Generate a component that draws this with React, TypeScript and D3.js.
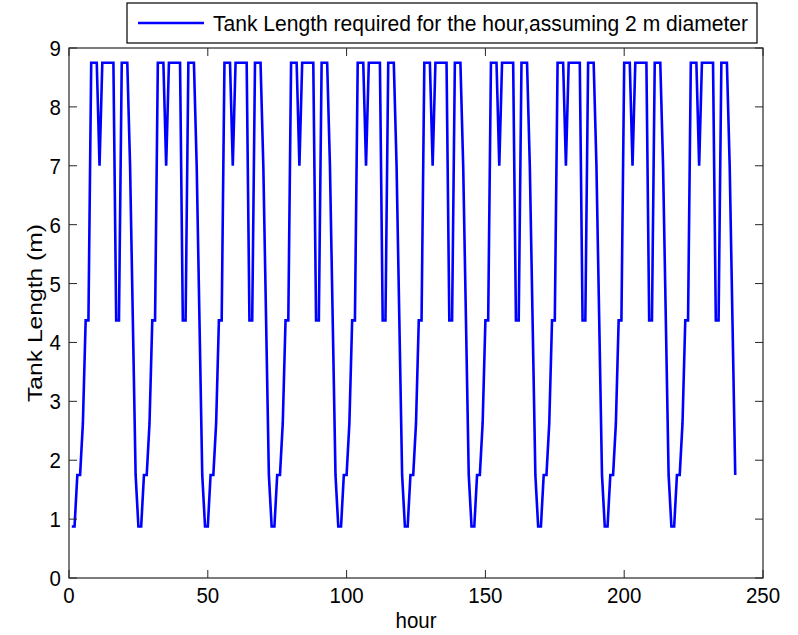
import React from "react";
import * as d3 from "d3";

const hours: number[] = Array.from({ length: 240 }, (_, i) => i + 1);

// Tank length (m) per hour, 10 days x 24 hours
const day1 = [0.875, 0.875, 1.75, 1.75, 2.625, 4.375, 4.375, 8.75, 8.75, 8.75, 7, 8.75, 8.75, 8.75, 8.75, 8.75, 4.375, 4.375, 8.75, 8.75, 8.75, 7, 4.375, 1.75];
const day2 = [0.875, 0.875, 1.75, 1.75, 2.625, 4.375, 4.375, 8.75, 8.75, 8.75, 7, 8.75, 8.75, 8.75, 8.75, 8.75, 4.375, 4.375, 8.75, 8.75, 8.75, 7, 4.375, 1.75];
const day3 = [0.875, 0.875, 1.75, 1.75, 2.625, 4.375, 4.375, 8.75, 8.75, 8.75, 7, 8.75, 8.75, 8.75, 8.75, 8.75, 4.375, 4.375, 8.75, 8.75, 8.75, 7, 4.375, 1.75];
const day4 = [0.875, 0.875, 1.75, 1.75, 2.625, 4.375, 4.375, 8.75, 8.75, 8.75, 7, 8.75, 8.75, 8.75, 8.75, 8.75, 4.375, 4.375, 8.75, 8.75, 8.75, 7, 4.375, 1.75];
const day5 = [0.875, 0.875, 1.75, 1.75, 2.625, 4.375, 4.375, 8.75, 8.75, 8.75, 7, 8.75, 8.75, 8.75, 8.75, 8.75, 4.375, 4.375, 8.75, 8.75, 8.75, 7, 4.375, 1.75];
const day6 = [0.875, 0.875, 1.75, 1.75, 2.625, 4.375, 4.375, 8.75, 8.75, 8.75, 7, 8.75, 8.75, 8.75, 8.75, 8.75, 4.375, 4.375, 8.75, 8.75, 8.75, 7, 4.375, 1.75];
const day7 = [0.875, 0.875, 1.75, 1.75, 2.625, 4.375, 4.375, 8.75, 8.75, 8.75, 7, 8.75, 8.75, 8.75, 8.75, 8.75, 4.375, 4.375, 8.75, 8.75, 8.75, 7, 4.375, 1.75];
const day8 = [0.875, 0.875, 1.75, 1.75, 2.625, 4.375, 4.375, 8.75, 8.75, 8.75, 7, 8.75, 8.75, 8.75, 8.75, 8.75, 4.375, 4.375, 8.75, 8.75, 8.75, 7, 4.375, 1.75];
const day9 = [0.875, 0.875, 1.75, 1.75, 2.625, 4.375, 4.375, 8.75, 8.75, 8.75, 7, 8.75, 8.75, 8.75, 8.75, 8.75, 4.375, 4.375, 8.75, 8.75, 8.75, 7, 4.375, 1.75];
const day10 = [0.875, 0.875, 1.75, 1.75, 2.625, 4.375, 4.375, 8.75, 8.75, 8.75, 7, 8.75, 8.75, 8.75, 8.75, 8.75, 4.375, 4.375, 8.75, 8.75, 8.75, 7, 4.375, 1.75];
const tankLength: number[] = [...day1, ...day2, ...day3, ...day4, ...day5, ...day6, ...day7, ...day8, ...day9, ...day10];

const xTicks = [0, 50, 100, 150, 200, 250];
const yTicks = [0, 1, 2, 3, 4, 5, 6, 7, 8, 9];
const legendLabel = "Tank Length required for the hour,assuming 2 m diameter";
const xLabel = "hour";
const yLabel = "Tank Length (m)";

const W = 798;
const H = 635;
const L = 69, R = 763, T = 48, B = 578;
const FONT = "'Liberation Sans', Arial, sans-serif";
const FS = 20.5;
const SY = 1.1;

export default function App() {
  const x = d3.scaleLinear().domain([0, 250]).range([L, R]);
  const y = d3.scaleLinear().domain([0, 9]).range([B, T]);
  const line = d3
    .line<number>()
    .x((_, i) => x(hours[i]))
    .y((d) => y(d));
  const tl = 8;
  return (
    <svg width={W} height={H} style={{ position: "absolute", left: 0, top: 0, background: "#fff" }}>
      <rect x={0} y={0} width={W} height={H} fill="#fff" />
      <path d={line(tankLength) || ""} fill="none" stroke="#0000ff" strokeWidth={2.6} strokeLinejoin="miter" />
      {/* box */}
      <rect x={L} y={T} width={R - L} height={B - T} fill="none" stroke="#262626" strokeWidth={1.2} />
      {xTicks.map((t) => (
        <g key={"x" + t}>
          <line x1={x(t)} x2={x(t)} y1={B} y2={B - tl} stroke="#262626" />
          <line x1={x(t)} x2={x(t)} y1={T} y2={T + tl} stroke="#262626" />
          <text
            transform={`translate(${x(t)}, ${B + 25}) scale(1, ${SY})`}
            textAnchor="middle"
            fontFamily={FONT}
            fontSize={FS}
            fill="#000"
          >
            {t}
          </text>
        </g>
      ))}
      {yTicks.map((t) => (
        <g key={"y" + t}>
          <line x1={L} x2={L + tl} y1={y(t)} y2={y(t)} stroke="#262626" />
          <line x1={R} x2={R - tl} y1={y(t)} y2={y(t)} stroke="#262626" />
          <text
            transform={`translate(${L - 8}, ${y(t) + 8}) scale(1, ${SY})`}
            textAnchor="end"
            fontFamily={FONT}
            fontSize={FS}
            fill="#000"
          >
            {t}
          </text>
        </g>
      ))}
      <text
        transform={`translate(${(L + R) / 2}, 628) scale(1, ${SY})`}
        textAnchor="middle"
        fontFamily={FONT}
        fontSize={FS}
        fill="#000"
      >
        {xLabel}
      </text>
      <text
        transform={`translate(42, ${(T + B) / 2}) rotate(-90)`}
        textAnchor="middle"
        fontFamily={FONT}
        fontSize={FS}
        fill="#000"
        textLength={178}
        lengthAdjust="spacingAndGlyphs"
      >
        {yLabel}
      </text>
      {/* legend */}
      <rect x={127} y={3} width={630} height={40} fill="#fff" stroke="#000" strokeWidth={1.2} />
      <line x1={138} x2={204} y1={23} y2={23} stroke="#0000ff" strokeWidth={2.6} />
      <text
        transform={`translate(213, 30.5) scale(1, ${SY})`}
        fontFamily={FONT}
        fontSize={FS}
        fill="#000"
        textLength={535}
        lengthAdjust="spacingAndGlyphs"
      >
        {legendLabel}
      </text>
    </svg>
  );
}
